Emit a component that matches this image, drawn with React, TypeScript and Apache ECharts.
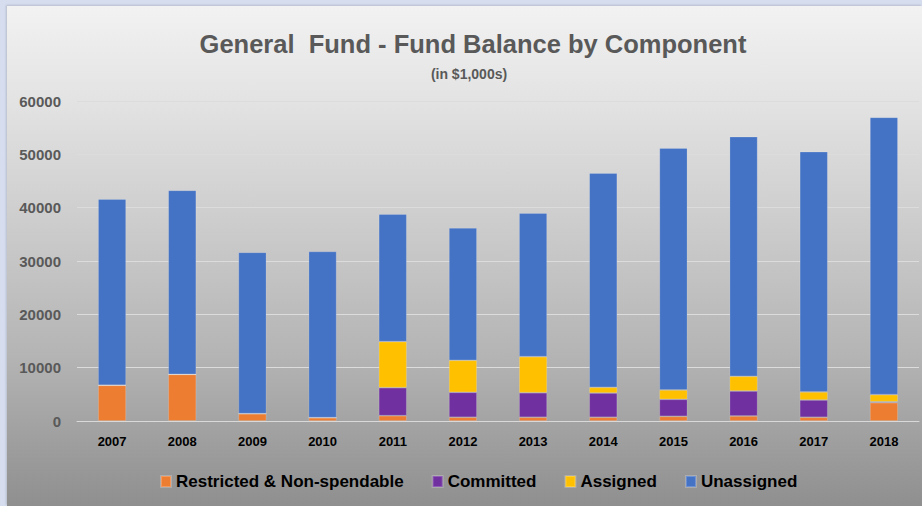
import React, { useEffect, useRef } from "react";
import * as echarts from "echarts";

const years = ["2007", "2008", "2009", "2010", "2011", "2012", "2013", "2014", "2015", "2016", "2017", "2018"];
const restricted = [6700, 8750, 1375, 625, 1000, 700, 700, 700, 875, 940, 700, 3440];
const committed = [0, 0, 0, 0, 5250, 4675, 4600, 4550, 3185, 4685, 3240, 185];
const assigned = [0, 0, 0, 0, 8625, 6000, 6760, 1060, 1750, 2750, 1500, 1315];
const unassigned = [34925, 34500, 30250, 31175, 23925, 24825, 26940, 40190, 45380, 44935, 45060, 52000];
const seriesNames = ["Restricted & Non-spendable", "Committed", "Assigned", "Unassigned"];
const seriesColors = ["#ED7D31", "#7030A0", "#FFC000", "#4472C4"];

const FONT = "'Liberation Sans', Arial, sans-serif";

export default function App() {
  const ref = useRef<HTMLDivElement>(null);
  useEffect(() => {
    if (!ref.current) return;
    const chart = echarts.init(ref.current, undefined, { renderer: "svg" });
    const data = [restricted, committed, assigned, unassigned];
    chart.setOption({
      animation: false,
      title: [
        {
          text: "General  Fund - Fund Balance by Component",
          left: 461,
          textAlign: "center",
          top: 20,
          textStyle: { fontFamily: FONT, fontSize: 25.5, fontWeight: "bold", color: "#595959" },
        },
        {
          text: "(in $1,000s)",
          left: 457,
          textAlign: "center",
          top: 56,
          textStyle: { fontFamily: FONT, fontSize: 14, fontWeight: "bold", color: "#595959" },
        },
      ],
      legend: {
        left: 153,
        top: 467,
        padding: 0,
        icon: "rect",
        itemWidth: 10,
        itemHeight: 11,
        itemGap: 28,
        textStyle: { fontFamily: FONT, fontSize: 17, fontWeight: "bold", color: "#000" },
        data: seriesNames,
      },
      grid: { left: 70, right: 3, top: 95, bottom: 85 },
      xAxis: {
        type: "category",
        data: years,
        axisLine: { lineStyle: { color: "#d9d9d9", width: 1 } },
        axisTick: { show: false },
        axisLabel: { fontFamily: FONT, fontSize: 13, fontWeight: "bold", color: "#000", margin: 14 },
      },
      yAxis: {
        type: "value",
        min: 0,
        max: 60000,
        interval: 10000,
        axisLine: { show: false },
        axisTick: { show: false },
        splitLine: { lineStyle: { color: "#dcdcdc", width: 1 } },
        axisLabel: {
          fontFamily: FONT,
          fontSize: 15,
          fontWeight: "bold",
          color: "#595959",
          margin: 16,
          formatter: (v: number) => String(v),
        },
      },
      series: seriesNames.map((name, i) => ({
        name,
        type: "bar",
        stack: "total",
        barWidth: "40%",
        data: data[i],
        itemStyle: { color: seriesColors[i], borderColor: "rgba(255,255,255,0.22)", borderWidth: 0.8 },
      })),
    });
    return () => chart.dispose();
  }, []);
  return (
    <div style={{ position: "fixed", left: 0, top: 0, width: 922, height: 506, background: "#d6ddef", overflow: "hidden" }}>
      <div
        style={{
          position: "absolute",
          left: 7,
          top: 6,
          width: 915,
          height: 500,
          background: "linear-gradient(to bottom, #f2f2f2 0%, #e2e2e2 20%, #b4b4b4 70%, #8f8f8f 100%)",
          boxShadow: "-1px -1px 2px rgba(0,0,0,0.15)",
        }}
      >
        <div ref={ref} style={{ width: 915, height: 500 }} />
      </div>
    </div>
  );
}
